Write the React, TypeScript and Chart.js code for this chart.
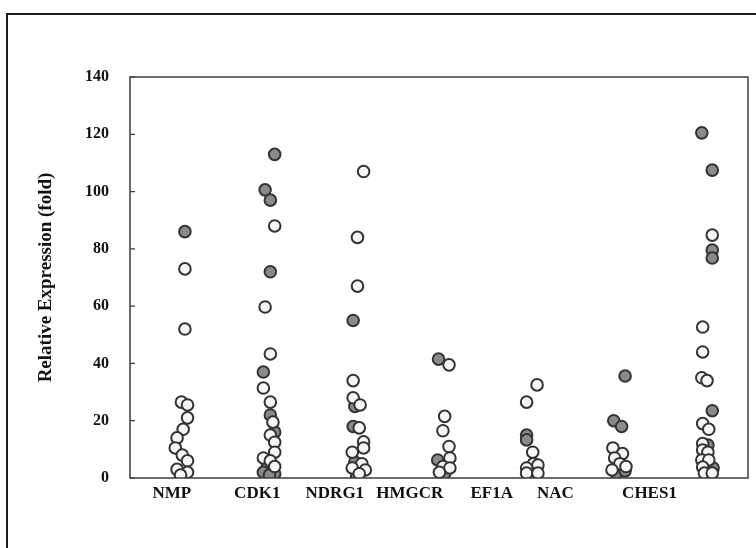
import React, { useEffect, useRef } from "react";
import { Chart, registerables } from "chart.js";

Chart.register(...registerables);

// Gene categories along the x axis
const categories = ["NMP", "CDK1", "NDRG1", "HMGCR", "EF1A", "NAC", "CHES1"];
// Where each category label sits on the x scale (category units)
const labelPos = [-0.15, 0.83, 1.72, 2.58, 3.52, 4.25, 5.33];
// Y axis tick values
const yTicks = [0, 20, 40, 60, 80, 100, 120, 140];

// Each point: [relative expression (fold), jitter in category units]
const NMP_filled = [[86, 0.0]];
const NMP_open = [
  [73, 0], [52, 0], [26.5, -0.04], [25.5, 0.03], [21, 0.03], [17, -0.02], [14, -0.09],
  [10.5, -0.11], [8, -0.03], [6, 0.03], [3, -0.09], [2, 0.03], [1, -0.05],
];
const CDK1_filled = [
  [113, 0.03], [100.6, -0.08], [97, -0.02], [72, -0.02], [37, -0.1], [22, -0.02],
  [16, 0.03], [3.5, -0.06], [2, -0.1], [1.5, 0.03], [1, -0.03],
];
const CDK1_open = [
  [88, 0.03], [59.7, -0.08], [43.3, -0.02], [31.4, -0.1], [26.5, -0.02], [19.5, 0.01],
  [15, -0.02], [12.5, 0.03], [9, 0.03], [7, -0.1], [6, -0.02], [4, 0.03],
];
const NDRG1_filled = [[55, -0.07], [25, -0.05], [18, -0.07], [5.6, -0.05], [1, -0.03]];
const NDRG1_open = [
  [107, 0.05], [84, -0.02], [67, -0.02], [34, -0.07], [28, -0.07], [25.5, 0.01],
  [17.5, 0.0], [12.6, 0.05], [10.5, 0.05], [9, -0.08], [5, 0.03], [3.5, -0.08],
  [2.8, 0.07], [1.5, 0.0],
];
const HMGCR_filled = [[41.5, -0.09], [6.3, -0.1], [1.5, -0.02]];
const HMGCR_open = [
  [39.5, 0.03], [21.5, -0.02], [16.5, -0.04], [11, 0.03], [7, 0.04], [4, -0.04],
  [3.5, 0.04], [2, -0.08],
];
const EF1A_filled = [[15, -0.08], [13.3, -0.08]];
const EF1A_open = [
  [32.5, 0.04], [26.5, -0.08], [9, -0.01], [5, 0.0], [4.5, 0.05], [3.5, -0.08],
  [1.7, -0.08], [1.7, 0.05],
];
const NAC_filled = [[35.6, 0.05], [20, -0.08], [18, 0.01], [1.7, -0.05], [2.5, 0.05]];
const NAC_open = [
  [10.5, -0.09], [8.5, 0.02], [7, -0.07], [5, -0.01], [2.8, -0.1], [4, 0.06],
];
const CHES1_filled = [
  [120.5, -0.07], [107.5, 0.05], [79.6, 0.05], [76.8, 0.05], [23.5, 0.05],
  [11.5, 0.0], [3.5, 0.06], [1.7, 0.02],
];
const CHES1_open = [
  [84.8, 0.05], [52.7, -0.06], [44, -0.06], [35, -0.07], [34, -0.01], [19, -0.06],
  [17, 0.01], [12, -0.06], [9.8, -0.06], [9, 0.0], [6.3, -0.07], [6.3, 0.01],
  [3.8, -0.06], [1.7, -0.04], [1.7, 0.05],
];

const filledSets = [NMP_filled, CDK1_filled, NDRG1_filled, HMGCR_filled, EF1A_filled, NAC_filled, CHES1_filled];
const openSets = [NMP_open, CDK1_open, NDRG1_open, HMGCR_open, EF1A_open, NAC_open, CHES1_open];

function toPoints(sets: number[][][]) {
  const pts: { x: number; y: number }[] = [];
  sets.forEach((set, i) => set.forEach(([v, j]) => pts.push({ x: i + j, y: v })));
  return pts;
}

const framePlugin = {
  id: "frame",
  afterDraw(chart: any) {
    const { ctx, chartArea } = chart;
    const ys = chart.scales.y;
    ctx.save();
    ctx.strokeStyle = "#3c3c3c";
    ctx.lineWidth = 1.5;
    ctx.strokeRect(chartArea.left, chartArea.top, chartArea.right - chartArea.left, chartArea.bottom - chartArea.top);
    ctx.lineWidth = 1.2;
    ctx.beginPath();
    yTicks.forEach((t) => {
      const py = ys.getPixelForValue(t);
      ctx.moveTo(chartArea.left, py);
      ctx.lineTo(chartArea.left + 5, py);
    });
    ctx.stroke();
    ctx.restore();
  },
};

export default function App() {
  const ref = useRef<HTMLCanvasElement | null>(null);
  useEffect(() => {
    if (!ref.current) return;
    const font = "'Liberation Serif', 'Times New Roman', serif";
    const chart = new Chart(ref.current, {
      type: "scatter",
      data: {
        datasets: [
          {
            label: "open",
            data: toPoints(openSets),
            backgroundColor: "#f6f6f6",
            borderColor: "#333333",
            borderWidth: 2,
            pointRadius: 5.8,
          },
          {
            label: "filled",
            data: toPoints(filledSets),
            backgroundColor: "#8a8a8a",
            borderColor: "#333333",
            borderWidth: 2,
            pointRadius: 5.8,
          },
        ],
      },
      options: {
        animation: false,
        responsive: false,
        layout: { padding: { top: 77, right: 8, left: 0, bottom: 0 } },
        plugins: { legend: { display: false }, tooltip: { enabled: false } },
        scales: {
          x: {
            type: "linear",
            min: -0.63,
            max: 6.46,
            grid: { display: false, drawTicks: false },
            border: { display: false },
            afterBuildTicks: (scale: any) => {
              scale.ticks = labelPos.map((v) => ({ value: v }));
            },
            afterFit: (scale: any) => {
              scale.height = 70;
            },
            ticks: {
              autoSkip: false,
              maxRotation: 0,
              padding: 5,
              color: "#111111",
              font: { family: font, size: 17, weight: "bold" },
              callback: (_v: any, i: number) => categories[i],
            },
          },
          y: {
            min: 0,
            max: 140,
            grid: { display: false, drawTicks: false },
            border: { display: false },
            afterBuildTicks: (scale: any) => {
              scale.ticks = yTicks.map((v) => ({ value: v }));
            },
            afterFit: (scale: any) => {
              scale.width = 130;
            },
            ticks: {
              padding: 21,
              color: "#111111",
              font: { family: font, size: 16, weight: "bold" },
            },
            title: {
              display: true,
              text: "Relative Expression (fold)",
              color: "#111111",
              font: { family: font, size: 19, weight: "bold" },
              padding: { top: 35, bottom: 0 },
            },
          },
        },
      },
      plugins: [framePlugin],
    });
    return () => chart.destroy();
  }, []);

  return (
    <div style={{ position: "absolute", left: 0, top: 0, width: 756, height: 548, overflow: "hidden", background: "#fff" }}>
      <div
        style={{
          position: "absolute",
          left: 6,
          top: 13,
          width: 780,
          height: 580,
          border: "2px solid #1a1a1a",
          boxSizing: "border-box",
        }}
      />
      <canvas ref={ref} width={756} height={548} style={{ position: "absolute", left: 0, top: 0 }} />
    </div>
  );
}
